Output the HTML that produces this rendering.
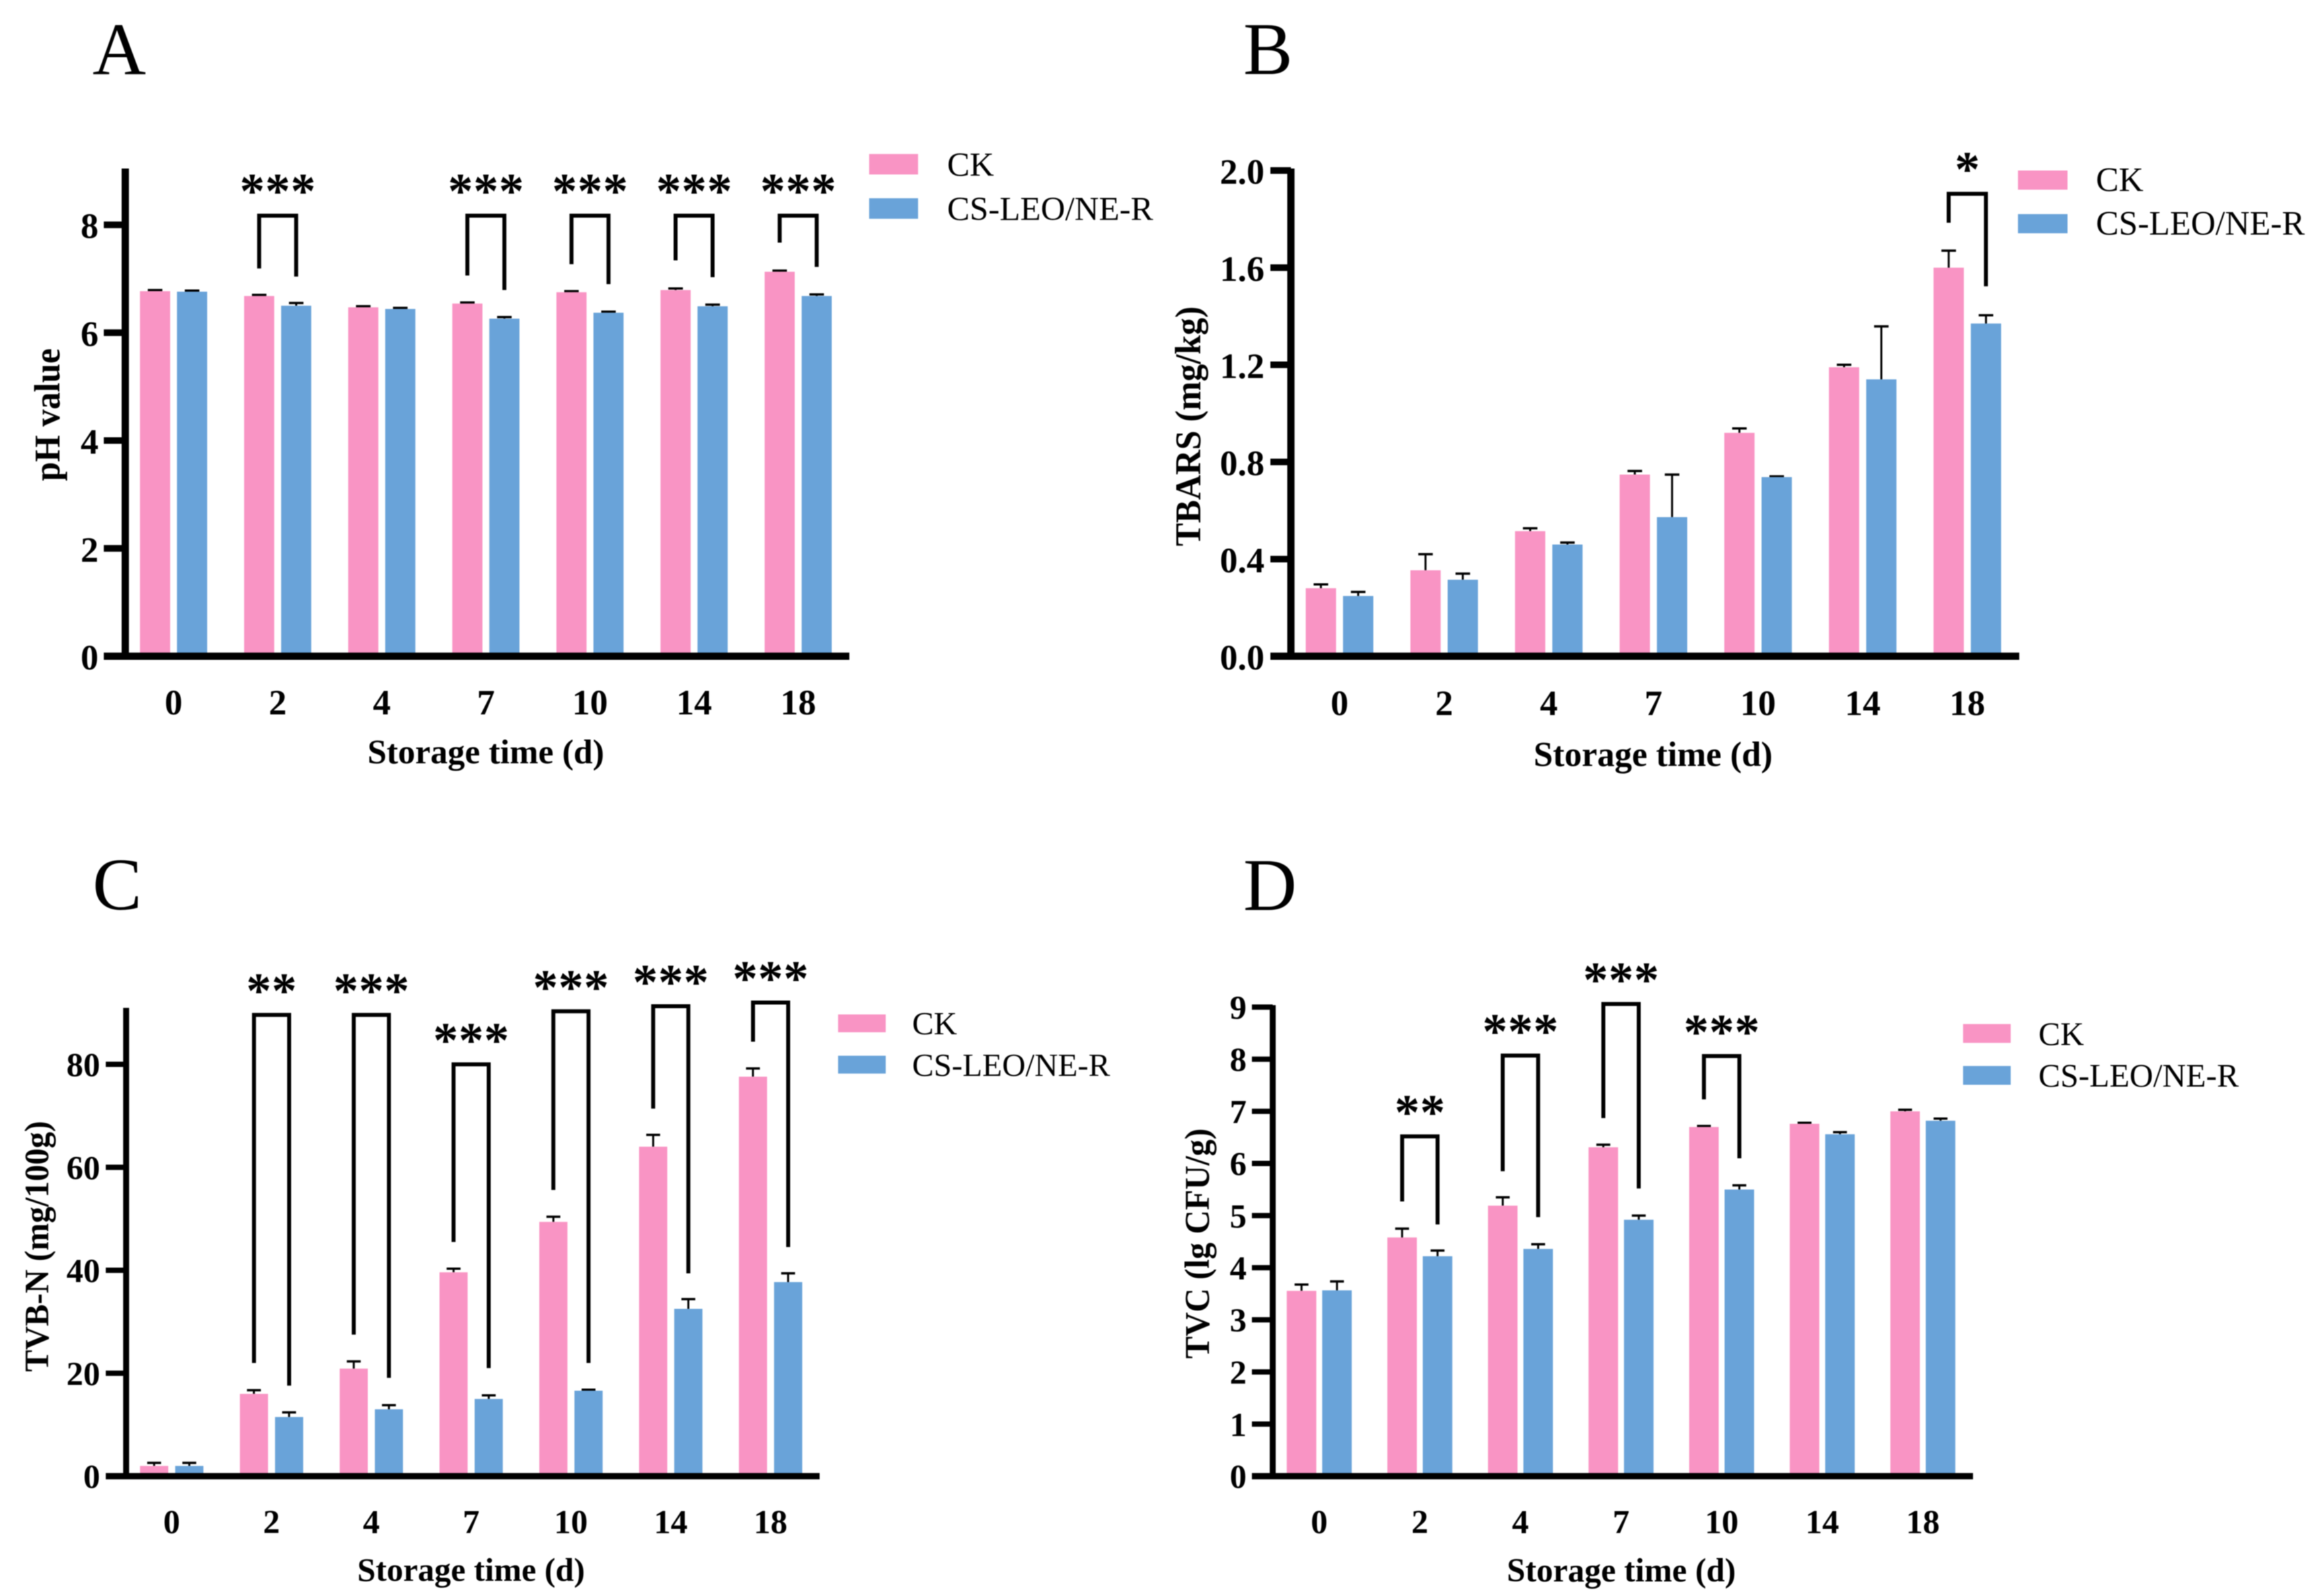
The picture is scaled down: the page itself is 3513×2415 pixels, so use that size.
<!DOCTYPE html>
<html lang="en">
<head>
<meta charset="utf-8">
<title>Storage time charts</title>
<style>
html,body{margin:0;padding:0;background:#fff;}
svg{display:block;filter:blur(0.7px);}
text{font-family:"Liberation Serif",serif;fill:#000;}
.t{font-weight:bold;}
.letter{font-size:112px;}
</style>
</head>
<body>
<svg id="figure" xmlns="http://www.w3.org/2000/svg" width="3513" height="2415" viewBox="0 0 3513 2415">
<rect x="0" y="0" width="3513" height="2415" fill="#fff"/>

<g id="panel-a">
  <text class="letter" x="140" y="112">A</text>
  <text class="t" x="735" y="1155" font-size="52" text-anchor="middle">Storage time (d)</text>
  <text class="t" transform="translate(90 627.5) rotate(-90) scale(1 1.05)" font-size="52" text-anchor="middle">pH value</text>
  <rect x="1315" y="233" width="74" height="31" fill="#F994C4"/>
  <rect x="1315" y="300" width="74" height="31" fill="#69A3D9"/>
  <text x="1433" y="266" font-size="51">CK</text>
  <text x="1433" y="333" font-size="51">CS-LEO/NE-R</text>
</g>

<g id="panel-b">
  <text class="letter" x="1881" y="112">B</text>
  <text class="t" x="2501" y="1159" font-size="52.5" text-anchor="middle">Storage time (d)</text>
  <text class="t" transform="translate(1816 645) rotate(-90) scale(1 1.05)" font-size="52.5" text-anchor="middle">TBARS (mg/kg)</text>
  <rect x="3053" y="258" width="75" height="29" fill="#F994C4"/>
  <rect x="3053" y="324" width="75" height="29" fill="#69A3D9"/>
  <text x="3171" y="289" font-size="51.7">CK</text>
  <text x="3171" y="355" font-size="51.7">CS-LEO/NE-R</text>
</g>

<g id="panel-c">
  <text class="letter" x="140" y="1376">C</text>
  <text class="t" x="712.7" y="2392" font-size="50" text-anchor="middle">Storage time (d)</text>
  <text class="t" transform="translate(73 1886) rotate(-90) scale(1 1.05)" font-size="49.7" text-anchor="middle">TVB-N (mg/100g)</text>
  <rect x="1268" y="1535" width="72" height="27" fill="#F994C4"/>
  <rect x="1268" y="1597.5" width="72" height="27" fill="#69A3D9"/>
  <text x="1380" y="1565" font-size="49">CK</text>
  <text x="1380" y="1628" font-size="49">CS-LEO/NE-R</text>
</g>

<g id="panel-d">
  <text class="letter" x="1881" y="1377">D</text>
  <text class="t" x="2453" y="2393" font-size="50.3" text-anchor="middle">Storage time (d)</text>
  <text class="t" transform="translate(1829 1881.6) rotate(-90) scale(1 1.05)" font-size="50.6" text-anchor="middle">TVC (lg CFU/g)</text>
  <rect x="2970" y="1549.5" width="72" height="28.5" fill="#F994C4"/>
  <rect x="2970" y="1613" width="72" height="28.5" fill="#69A3D9"/>
  <text x="3084" y="1581" font-size="49.6">CK</text>
  <text x="3084" y="1644" font-size="49.6">CS-LEO/NE-R</text>
</g>
</svg>

<script>
// Shared categories
const categories = ["0", "2", "4", "7", "10", "14", "18"];

// Panel A: pH value
const phTicks = ["0", "2", "4", "6", "8"];
const phCK = [6.77, 6.68, 6.47, 6.54, 6.75, 6.79, 7.13];
const phCS = [6.76, 6.50, 6.44, 6.26, 6.37, 6.49, 6.68];
const phCKErr = [0.02, 0.02, 0.02, 0.02, 0.02, 0.03, 0.02];
const phCSErr = [0.02, 0.05, 0.02, 0.03, 0.02, 0.03, 0.03];
const phSigIndex = [1, 3, 4, 5, 6];
const phSigTop = [8.17, 8.17, 8.17, 8.17, 8.17];
const phSigLeft = [7.19, 7.06, 7.27, 7.34, 7.67];
const phSigRight = [7.04, 6.79, 6.90, 7.03, 7.22];
const phSigStars = ["***", "***", "***", "***", "***"];

// Panel B: TBARS
const tbarsTicks = ["0.0", "0.4", "0.8", "1.2", "1.6", "2.0"];
const tbarsCK = [0.28, 0.354, 0.515, 0.748, 0.92, 1.19, 1.60];
const tbarsCS = [0.248, 0.315, 0.46, 0.573, 0.7375, 1.14, 1.37];
const tbarsCKErr = [0.016, 0.066, 0.012, 0.015, 0.018, 0.01, 0.07];
const tbarsCSErr = [0.017, 0.025, 0.008, 0.175, 0.003, 0.218, 0.034];
const tbarsSigIndex = [6];
const tbarsSigTop = [1.904];
const tbarsSigLeft = [1.785];
const tbarsSigRight = [1.523];
const tbarsSigStars = ["*"];

// Panel C: TVB-N
const tvbTicks = ["0", "20", "40", "60", "80"];
const tvbCK = [2.0, 16.0, 20.9, 39.6, 49.4, 64.0, 77.6];
const tvbCS = [2.0, 11.5, 13.0, 15.0, 16.6, 32.5, 37.7];
const tvbCKErr = [0.6, 0.7, 1.4, 0.7, 1.0, 2.3, 1.6];
const tvbCSErr = [0.6, 0.9, 0.8, 0.7, 0.2, 1.9, 1.7];
const tvbSigIndex = [1, 2, 3, 4, 5, 6];
const tvbSigTop = [89.6, 89.6, 80.0, 90.3, 91.3, 92.0];
const tvbSigLeft = [22.0, 27.5, 45.5, 55.6, 71.4, 84.4];
const tvbSigRight = [17.6, 19.1, 21.0, 22.0, 39.4, 44.5];
const tvbSigStars = ["**", "***", "***", "***", "***", "***"];

// Panel D: TVC
const tvcTicks = ["0", "1", "2", "3", "4", "5", "6", "7", "8", "9"];
const tvcCK = [3.556, 4.58, 5.19, 6.31, 6.70, 6.76, 7.00];
const tvcCS = [3.566, 4.22, 4.36, 4.92, 5.50, 6.56, 6.82];
const tvcCKErr = [0.12, 0.17, 0.16, 0.05, 0.02, 0.02, 0.03];
const tvcCSErr = [0.17, 0.11, 0.09, 0.08, 0.08, 0.04, 0.04];
const tvcSigIndex = [1, 2, 3, 4];
const tvcSigTop = [6.52, 8.07, 9.06, 8.06];
const tvcSigLeft = [5.27, 5.85, 6.87, 7.23];
const tvcSigRight = [4.83, 4.97, 5.52, 6.10];
const tvcSigStars = ["**", "***", "***", "***"];

const SVGNS = "http://www.w3.org/2000/svg";
const PINK = "#F994C4";
const BLUE = "#69A3D9";

function mk(parent, tag, attrs) {
  const el = document.createElementNS(SVGNS, tag);
  for (const k in attrs) el.setAttribute(k, attrs[k]);
  parent.appendChild(el);
  return el;
}

function drawPanel(id, g, ck, cs, ckErr, csErr, ticks, sigIndex, sigTop, sigLeft, sigRight, sigStars) {
  const root = document.getElementById(id);
  const xc = i => g.x0 + g.step * i;
  const y = v => g.yZero - g.yUnit * v;

  // bars and error bars
  const drawSeries = (vals, errs, off, color, label) => {
    vals.forEach((v, i) => {
      const cx = xc(i) + off;
      const stem = mk(root, "line", {x1: cx, x2: cx, y1: y(v), y2: y(v + errs[i]), stroke: "#000", "stroke-width": 3});
      
      
      const cap = mk(root, "line", {x1: cx - g.cap / 2, x2: cx + g.cap / 2, y1: y(v + errs[i]), y2: y(v + errs[i]), stroke: "#000", "stroke-width": 3.5});
      
      
      const bar = mk(root, "rect", {x: cx - g.barW / 2, y: y(v), width: g.barW, height: g.yZero - y(v), fill: color});
      
      
    });
  };
  drawSeries(ck, ckErr, -g.off, PINK, "ck");
  drawSeries(cs, csErr, g.off, BLUE, "cs-leo");

  // axes
  const yAxis = mk(root, "rect", {x: g.axisX - g.axisW / 2, y: g.axisTop, width: g.axisW, height: g.yZero - g.axisTop, fill: "#000"});
  
  
  const xAxis = mk(root, "rect", {x: g.axisLeft, y: g.yZero - g.axisH / 2, width: g.axisRight - g.axisLeft, height: g.axisH, fill: "#000"});
  
  

  // y ticks
  ticks.forEach(t => {
    const v = parseFloat(t);
    if (v !== 0) {
      const tick = mk(root, "rect", {x: g.axisLeft, y: y(v) - g.tickH / 2, width: g.axisX - g.axisLeft, height: g.tickH, fill: "#000"});
      
      
    }
    const lab = mk(root, "text", {x: g.tickRight, y: y(v) + g.tickBase, "font-size": g.tickFont, "font-weight": "bold", "text-anchor": "end"});
    lab.textContent = t;
    
    
  });

  // x labels
  categories.forEach((c, i) => {
    const lab = mk(root, "text", {x: xc(i), y: g.xLabelY, "font-size": g.tickFont, "font-weight": "bold", "text-anchor": "middle"});
    lab.textContent = c;
    
    
  });

  // significance brackets
  sigIndex.forEach((idx, k) => {
    const l = xc(idx) - g.off, r = xc(idx) + g.off;
    const br = mk(root, "path", {
      d: "M" + l + " " + y(sigLeft[k]) + "V" + y(sigTop[k]) + "H" + r + "V" + y(sigRight[k]),
      fill: "none", stroke: "#000", "stroke-width": 6, "stroke-linejoin": "miter"
    });
    
    
    const st = mk(root, "text", {
      x: xc(idx) + 0.25, y: y(sigTop[k]) - g.starGap, "font-size": 76, "font-weight": "bold",
      "letter-spacing": 0.5, "text-anchor": "middle"
    });
    st.textContent = sigStars[k];
    
    
  });
}

drawPanel("panel-a",
  {x0: 262.6, step: 157.5, off: 28, barW: 45.6, cap: 22, yZero: 993, yUnit: 81.6, axisX: 189.5, axisW: 11, axisTop: 255, axisLeft: 157, axisRight: 1285, axisH: 11, tickH: 10, tickRight: 149, tickBase: 20, tickFont: 54, xLabelY: 1081, starGap: 12},
  phCK, phCS, phCKErr, phCSErr, phTicks, phSigIndex, phSigTop, phSigLeft, phSigRight, phSigStars);

drawPanel("panel-b",
  {x0: 2026.6, step: 158.3, off: 28.2, barW: 45.8, cap: 22, yZero: 993, yUnit: 367.5, axisX: 1953, axisW: 11, axisTop: 255, axisLeft: 1922, axisRight: 3055, axisH: 11, tickH: 10, tickRight: 1913, tickBase: 20, tickFont: 54, xLabelY: 1082, starGap: 12},
  tbarsCK, tbarsCS, tbarsCKErr, tbarsCSErr, tbarsTicks, tbarsSigIndex, tbarsSigTop, tbarsSigLeft, tbarsSigRight, tbarsSigStars);

drawPanel("panel-c",
  {x0: 259.8, step: 151, off: 26.6, barW: 42.6, cap: 21, yZero: 2233.7, yUnit: 7.79, axisX: 190.8, axisW: 9, axisTop: 1525, axisLeft: 160, axisRight: 1240, axisH: 9.5, tickH: 8, tickRight: 151.5, tickBase: 18, tickFont: 51, xLabelY: 2320, starGap: 11},
  tvbCK, tvbCS, tvbCKErr, tvbCSErr, tvbTicks, tvbSigIndex, tvbSigTop, tvbSigLeft, tvbSigRight, tvbSigStars);

drawPanel("panel-d",
  {x0: 1995.9, step: 152.2, off: 26.8, barW: 44.7, cap: 21, yZero: 2233.7, yUnit: 78.87, axisX: 1925.5, axisW: 9, axisTop: 1521, axisLeft: 1894, axisRight: 2985, axisH: 9.5, tickH: 8, tickRight: 1886, tickBase: 18, tickFont: 51, xLabelY: 2320, starGap: 11},
  tvcCK, tvcCS, tvcCKErr, tvcCSErr, tvcTicks, tvcSigIndex, tvcSigTop, tvcSigLeft, tvcSigRight, tvcSigStars);
</script>
</body>
</html>
